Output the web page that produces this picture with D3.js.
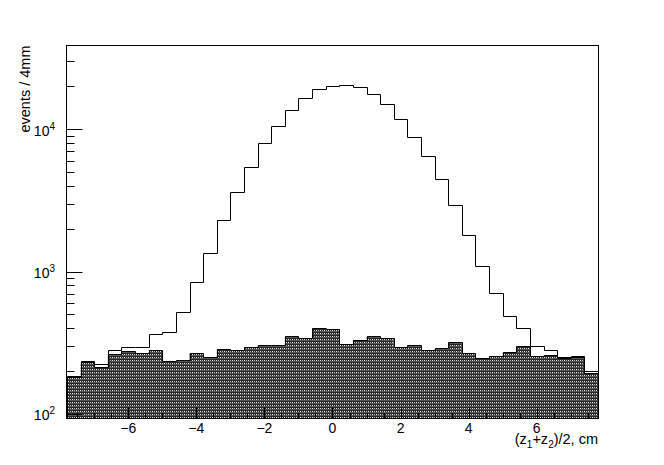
<!DOCTYPE html>
<html>
<head>
<meta charset="utf-8">
<script src="https://cdn.jsdelivr.net/npm/d3@7"></script>
<style>
  body { margin: 0; background: #fff; }
  text { font-family: "Liberation Sans", Arial, sans-serif; fill: #000; }
</style>
</head>
<body>
<div class="viz"></div>
<script>
// histogram binning: 39 bins of 4 mm from -7.8 to 7.8 cm
const xLow = -7.8
const binWidth = 0.4

// all events per bin
const total = [186, 237, 226, 279, 294, 294, 365, 379, 524, 842, 1353, 2307, 3590, 5375, 7925,
  10430, 13510, 16400, 19100, 20050, 20470, 19720, 17700, 14980, 11680, 8830, 6462, 4455, 2940,
  1810, 1102, 712, 489, 404, 301, 279, 250, 256, 199]

// background per bin (hatched)
const background = [181, 232, 215, 264, 277, 267, 281, 237, 240, 270, 251, 288, 279, 297, 305,
  305, 350, 344, 404, 393, 311, 332, 354, 341, 297, 305, 279, 290, 322, 267, 249, 256, 273, 301,
  257, 260, 247, 251, 193]

const xTicks = [-6, -4, -2, 0, 2, 4, 6]
const yTicks = [100, 1000, 10000]
const yDomain = [93.7, 38600]

const width = 664, height = 465
const margin = {top: 45.5, right: 66, bottom: 47, left: 67}

const svg = d3.select('.viz').append('svg')
  .attr('width', width)
  .attr('height', height)

const x = d3.scaleLinear([xLow, xLow + binWidth * total.length], [margin.left, width - margin.right])
const y = d3.scaleLog(yDomain, [height - margin.bottom, margin.top])

// pattern like ROOT's dotted fill
const defs = svg.append('defs')
const pat = defs.append('pattern')
  .attr('id', 'dots')
  .attr('patternUnits', 'userSpaceOnUse')
  .attr('width', 4).attr('height', 3)
pat.append('rect').attr('width', 4).attr('height', 3).attr('fill', '#262626')
pat.append('rect').attr('y', 1).attr('width', 4).attr('height', 1).attr('fill', '#555')
pat.append('rect').attr('x', 0).attr('y', 0).attr('width', 1).attr('height', 1).attr('fill', '#eee')
pat.append('rect').attr('x', 2).attr('y', 0).attr('width', 1).attr('height', 1).attr('fill', '#bbb')

defs.append('clipPath').attr('id', 'frame')
  .append('rect')
  .attr('x', margin.left).attr('y', margin.top)
  .attr('width', width - margin.left - margin.right)
  .attr('height', height - margin.top - margin.bottom)

const steps = vals => vals.flatMap((v, i) => [
  [xLow + i * binWidth, v],
  [xLow + (i + 1) * binWidth, v]
])

const plot = svg.append('g').attr('clip-path', 'url(#frame)')

const area = d3.area()
  .x(d => x(d[0]))
  .y0(y(yDomain[0]) + 2)
  .y1(d => Math.round(y(d[1])) + 0.5)

plot.append('path')
  .datum(steps(background))
  .attr('fill', 'url(#dots)')
  .attr('stroke', 'none')
  .attr('d', area)

const line = d3.line()
  .x(d => Math.round(x(d[0])) + 0.5)
  .y(d => Math.round(y(d[1])) + 0.5)

plot.append('path')
  .datum(steps(background))
  .attr('fill', 'none')
  .attr('stroke', '#000')
  .attr('stroke-width', 1)
  .attr('d', line)

const totalPts = steps(total)
totalPts.unshift([xLow, yDomain[0]])
totalPts.push([xLow + binWidth * total.length, yDomain[0]])
plot.append('path')
  .datum(totalPts)
  .attr('fill', 'none')
  .attr('stroke', '#000')
  .attr('stroke-width', 1)
  .attr('d', line)

// frame
const x0 = margin.left - 0.5, x1 = width - margin.right + 0.5
const y0 = margin.top, y1 = height - margin.bottom + 0.5
svg.append('rect')
  .attr('x', x0).attr('y', y0)
  .attr('width', x1 - x0).attr('height', y1 - y0)
  .attr('fill', 'none').attr('stroke', '#000')

// x axis ticks (inward)
const xMinor = d3.range(-7.5, 7.6, 0.5)
const axisG = svg.append('g').attr('stroke', '#000').attr('stroke-width', 1)
xMinor.forEach(t => {
  const major = xTicks.includes(t)
  const px = Math.round(x(t)) + 0.5
  axisG.append('line')
    .attr('x1', px).attr('x2', px)
    .attr('y1', y1).attr('y2', y1 - (major ? 11 : 5.5))
})

svg.append('g').selectAll('text')
  .data(xTicks)
  .join('text')
  .attr('x', d => x(d))
  .attr('y', 433)
  .attr('text-anchor', 'middle')
  .style('font-size', '14px')
  .text(d => d < 0 ? '\u2212' + Math.abs(d) : d)

// y axis ticks (inward), log
const yMinor = []
;[100, 1000, 10000].forEach(dec => {
  for (let k = 1; k < 10; k++) {
    const v = dec * k
    if (v >= yDomain[0] && v <= yDomain[1]) yMinor.push(v)
  }
})
yMinor.forEach(v => {
  const major = yTicks.includes(v)
  const py = Math.round(y(v)) + 0.5
  axisG.append('line')
    .attr('x1', x0).attr('x2', x0 + (major ? 16 : 8))
    .attr('y1', py).attr('y2', py)
})

const yl = svg.append('g').selectAll('text')
  .data(yTicks)
  .join('text')
  .attr('x', 55)
  .attr('y', d => y(d) + 6.5)
  .attr('text-anchor', 'end')
  .style('font-size', '14px')
yl.append('tspan').text('10')
yl.append('tspan')
  .attr('dy', -6)
  .style('font-size', '10px')
  .text(d => Math.round(Math.log10(d)))

// titles
const xt = svg.append('text')
  .attr('x', width - margin.right)
  .attr('y', 444)
  .attr('text-anchor', 'end')
  .style('font-size', '14.5px')
xt.append('tspan').text('(z')
xt.append('tspan').attr('dy', 4).style('font-size', '10px').text('1')
xt.append('tspan').attr('dy', -4).text('+z')
xt.append('tspan').attr('dy', 4).style('font-size', '10px').text('2')
xt.append('tspan').attr('dy', -4).text(')/2, cm')

svg.append('text')
  .attr('transform', `translate(30,${margin.top}) rotate(-90)`)
  .attr('text-anchor', 'end')
  .style('font-size', '14.5px')
  .text('events / 4mm')
</script>
</body>
</html>
